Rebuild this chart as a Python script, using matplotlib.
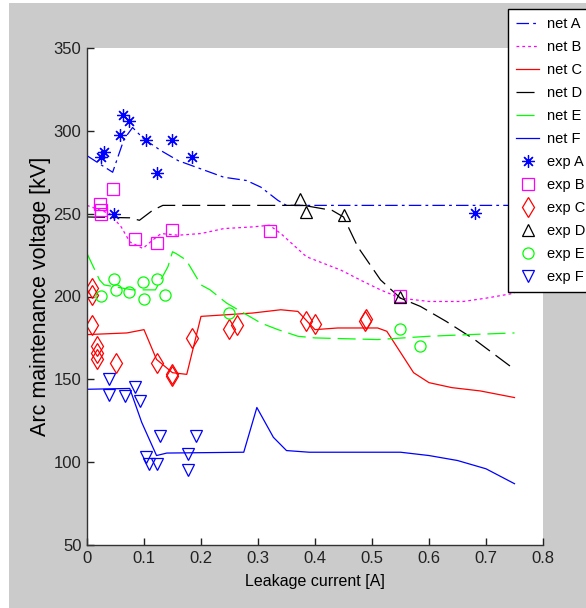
import matplotlib
matplotlib.use('Agg')
import matplotlib.pyplot as plt
from matplotlib import font_manager
from matplotlib.patches import Rectangle

# ---- data ----
# network curves (x = leakage current [A], y = voltage [kV])
netA_x = [0, 0.045, 0.065, 0.08, 0.1, 0.13, 0.16, 0.2, 0.24, 0.28, 0.305, 0.335, 0.35, 0.75]
netA_y = [285, 275, 295, 302, 295, 288, 282, 277, 272, 270, 266, 258, 255, 255]

netB_x = [0, 0.04, 0.06, 0.075, 0.098, 0.115, 0.13, 0.16, 0.2, 0.24, 0.29, 0.32, 0.34,
          0.385, 0.445, 0.485, 0.515, 0.55, 0.6, 0.66, 0.7, 0.75]
netB_y = [255, 250, 242, 233, 229, 234, 238, 237, 238, 241, 242, 243, 238,
          224, 216, 209, 204, 199, 197, 197, 199, 202]

netC_x = [0, 0.07, 0.1, 0.122, 0.15, 0.175, 0.2, 0.29, 0.34, 0.37, 0.40, 0.44, 0.51,
          0.526, 0.573, 0.6, 0.64, 0.69, 0.75]
netC_y = [177, 178, 180, 162, 154, 153, 188, 190, 192, 191, 180, 181, 181,
          179, 154, 148, 145, 143, 139]

netD_x = [0, 0.075, 0.092, 0.115, 0.133, 0.38, 0.43, 0.45, 0.475, 0.515, 0.55, 0.585,
          0.63, 0.68, 0.75]
netD_y = [248, 247.5, 246, 252, 255, 255, 252, 248, 230, 210, 199, 194, 185, 174, 156]

netE_x = [0, 0.022, 0.03, 0.08, 0.12, 0.142, 0.15, 0.156, 0.174, 0.2, 0.216, 0.245, 0.28,
          0.305, 0.335, 0.37, 0.4, 0.51, 0.6, 0.67, 0.75]
netE_y = [226, 210, 207, 204, 204, 218, 227, 226, 222, 207, 204, 196, 189,
          184, 180, 176, 175, 174, 176, 177, 178]

netF_x = [0, 0.075, 0.096, 0.122, 0.14, 0.275, 0.298, 0.327, 0.35, 0.39, 0.55, 0.6,
          0.65, 0.7, 0.75]
netF_y = [144, 144.5, 124, 104, 105.5, 106, 133, 115, 107, 106, 106, 104, 101, 96, 87]

# experimental points
expA_x = [0.064, 0.074, 0.058, 0.104, 0.149, 0.029, 0.024, 0.184, 0.123, 0.048, 0.681]
expA_y = [309.5, 306, 297.5, 294.5, 294.5, 287, 284, 284.5, 274.5, 250, 250.5]

expB_x = [0.046, 0.023, 0.024, 0.025, 0.084, 0.123, 0.149, 0.321, 0.549]
expB_y = [265, 256, 252.5, 250, 234.5, 232.5, 240, 239.5, 200.5]

expC_x = [0.009, 0.009, 0.009, 0.017, 0.017, 0.017, 0.05, 0.122, 0.149, 0.149,
          0.185, 0.249, 0.263, 0.385, 0.4, 0.487, 0.489]
expC_y = [205, 201, 183, 170, 166, 162, 160, 160, 153.5, 152, 175, 180.5, 183,
          185, 183.5, 185, 186.5]

expD_x = [0.374, 0.385, 0.45, 0.549]
expD_y = [259, 251, 249, 200]

expE_x = [0.025, 0.048, 0.05, 0.074, 0.099, 0.1, 0.122, 0.136, 0.249, 0.549, 0.584]
expE_y = [200.5, 210.5, 204, 202.5, 208.5, 198.5, 210.5, 201, 190, 180.5, 170]

expF_x = [0.039, 0.039, 0.067, 0.084, 0.093, 0.128, 0.104, 0.108, 0.123, 0.178, 0.178, 0.192]
expF_y = [150, 140.5, 140, 145.5, 137, 115.5, 103, 99, 99, 105, 95.5, 115.5]

x_ticks = [0, 0.1, 0.2, 0.3, 0.4, 0.5, 0.6, 0.7, 0.8]
x_tick_labels = ['0', '0.1', '0.2', '0.3', '0.4', '0.5', '0.6', '0.7', '0.8']
y_ticks = [50, 100, 150, 200, 250, 300, 350]

# ---- fonts ----
names = {f.name for f in font_manager.fontManager.ttflist}
narrow = 'Liberation Sans Narrow' if 'Liberation Sans Narrow' in names else 'Liberation Sans'
plt.rcParams['font.family'] = [narrow, 'DejaVu Sans']
plt.rcParams['lines.scale_dashes'] = False

fig = plt.figure(figsize=(5.86, 6.08), dpi=100, facecolor='white')
# grey MATLAB-like figure background, kept behind the axes
fig.patches.append(Rectangle((9 / 586, 0), 1, 1 - 3 / 608, transform=fig.transFigure,
                             facecolor='#cbcbcb', edgecolor='none', zorder=-10))

ax = fig.add_axes([87 / 586, 1 - 545 / 608, 456 / 586, 497 / 608])
ax.set_zorder(1)
ax.set_facecolor('white')

lw = 0.9
ax.plot(netA_x, netA_y, color='#0000ff', lw=lw, dashes=(9, 3, 2, 3), label='net A')
ax.plot(netB_x, netB_y, color='#ff00ff', lw=lw, dashes=(2, 2.2), label='net B')
ax.plot(netC_x, netC_y, color='#ff0000', lw=lw, label='net C')
ax.plot(netD_x, netD_y, color='black', lw=lw, dashes=(13, 5), label='net D')
ax.plot(netE_x, netE_y, color='#00ff00', lw=lw, dashes=(13, 5), label='net E')
ax.plot(netF_x, netF_y, color='#0000ff', lw=lw, label='net F')

mk = dict(linestyle='none', markerfacecolor='none', markeredgewidth=0.9)
ax.plot(expA_x, expA_y, marker=(8, 2, 0), color='#0000ff', markersize=9,
        linestyle='none', markeredgewidth=0.9, label='exp A')
ax.plot(expB_x, expB_y, marker='s', color='#ff00ff', markersize=8.5, **mk, label='exp B')
ax.plot(expC_x, expC_y, marker='d', color='#ff0000', markersize=10, **mk, label='exp C')
ax.plot(expD_x, expD_y, marker='^', color='black', markersize=8, **mk, label='exp D')
ax.plot(expE_x, expE_y, marker='o', color='#00ff00', markersize=8, **mk, label='exp E')
ax.plot(expF_x, expF_y, marker='v', color='#0000ff', markersize=8, **mk, label='exp F')

ax.set_xlim(0, 0.8)
ax.set_ylim(50, 350)
ax.set_xticks(x_ticks)
ax.set_xticklabels(x_tick_labels)
ax.set_yticks(y_ticks)
ax.tick_params(direction='in', length=5, width=1, labelsize=12, pad=4, colors='#222222')
for s in ['top', 'right']:
    ax.spines[s].set_visible(False)
for s in ['left', 'bottom']:
    ax.spines[s].set_color('#333333')
    ax.spines[s].set_linewidth(1)

ax.set_xlabel('Leakage current [A]', fontsize=11.5, labelpad=6)
ax.set_ylabel('Arc maintenance voltage [kV]', fontsize=15.5, labelpad=2,
              family=['Liberation Sans', 'DejaVu Sans'])

leg = ax.legend(loc='upper left', bbox_to_anchor=(508 / 586, 1 - 9 / 608),
                bbox_transform=fig.transFigure,
                borderaxespad=0, fontsize=10.5, frameon=True, fancybox=False,
                framealpha=1, edgecolor='black', handlelength=1.6,
                handletextpad=0.5, labelspacing=0.62, borderpad=0.55)
leg.get_frame().set_linewidth(1)
leg.set_clip_on(False)

fig.savefig('out.png', dpi=100, facecolor=fig.get_facecolor())
